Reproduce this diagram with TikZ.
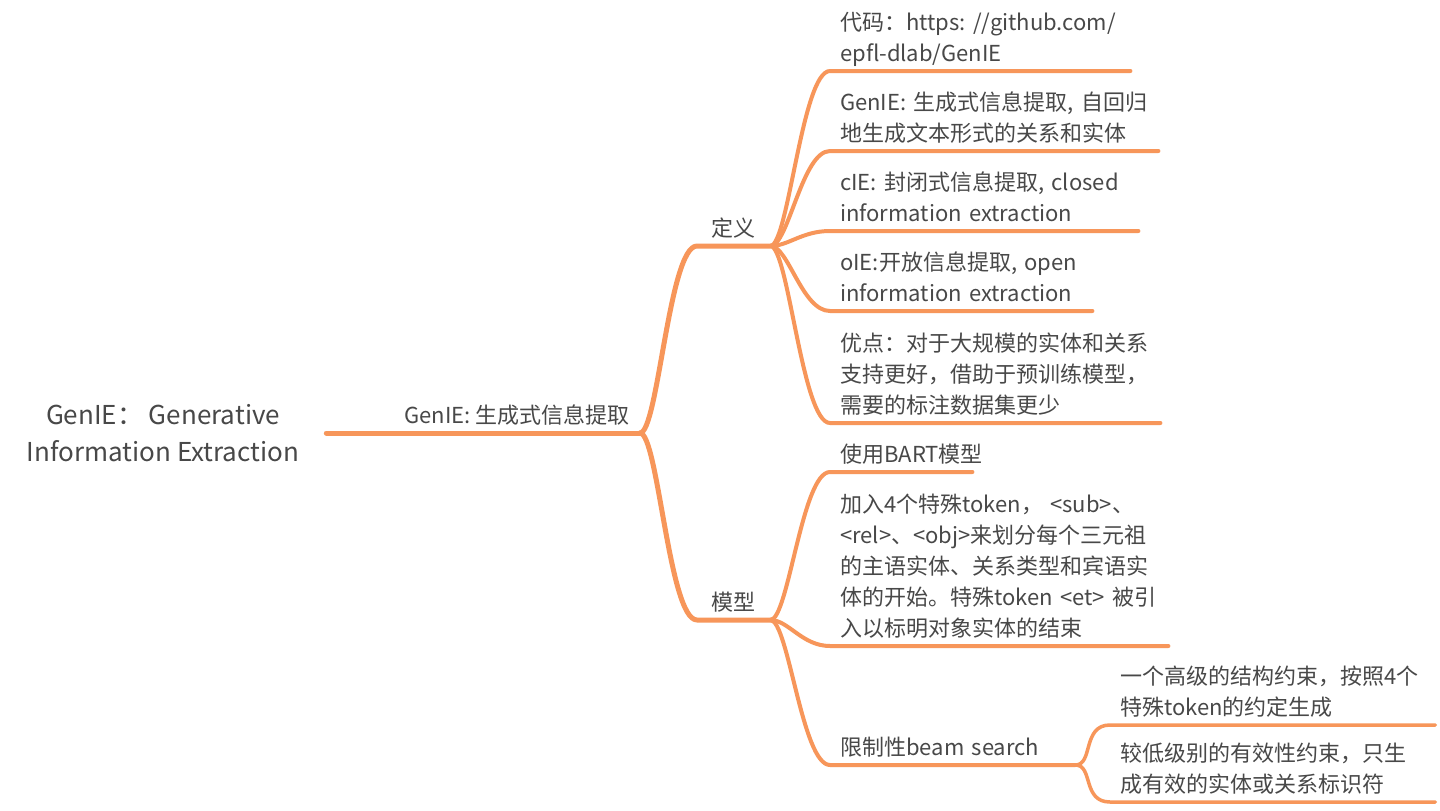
\documentclass[tikz,border=0pt]{standalone}
\usepackage{fontspec}
\setmainfont{Noto Sans CJK SC}
\usepackage{xcolor}
\usetikzlibrary{positioning, calc}

\definecolor{mindorange}{RGB}{247,150,90}
\definecolor{mindtext}{RGB}{72,72,72}

\begin{document}
\begin{tikzpicture}[
        x=1pt, y=-1pt, % sheet units: one unit per pixel, y downwards
        font=\fontsize{22}{31}\selectfont,
        text=mindtext,
        branch/.style={draw=mindorange, line width=4pt, line cap=round, line join=round},
        trunk/.style={branch, line width=5pt},
        twig/.style={branch, line width=3.5pt},
        limb/.style={to path={.. controls +(18,0) and +(-28,0) .. (\tikztotarget) \tikztonodes}},
        rootnode/.style={font=\fontsize{26}{37}\selectfont, align=center, inner xsep=27pt},
        subject/.style={anchor=south east, inner xsep=10pt, inner ysep=0pt, execute at end node=\strut},
        hub/.style={anchor=south west, minimum width=73pt, inner xsep=0pt, inner ysep=0pt, execute at end node=\strut},
        topic/.style={anchor=south west, align=left, text width=#1, inner xsep=10pt, inner ysep=0pt, execute at end node=\strut},
    ]

    % --- LAYOUT PARAMETERS ---
    \pgfmathsetmacro{\hubx}{697}
    \pgfmathsetmacro{\leafx}{830}
    \pgfmathsetmacro{\twigx}{1110}

    % Sheet
    \fill[white] (0,0) rectangle (1440,811);
    \useasboundingbox (0,0) rectangle (1440,811);

    % Root and main subject
    \node[rootnode] (root) at (163,433) {GenIE： Generative\\Information Extraction};
    \node[subject] (gen) at (640,433) {GenIE: 生成式信息提取};

    % Second level
    \node[hub] (def) at (\hubx,246) {定义};
    \node[hub] (model) at (\hubx,620) {模型};

    % Leaves of the definition
    \node[topic=280pt] (code) at (\leafx,71) {代码：https:~//github.com/\\epfl-dlab/GenIE};
    \node[topic=308pt] (genie) at (\leafx,151) {GenIE:~生成式信息提取,~自回归\\地生成文本形式的关系和实体};
    \node[topic=288pt] (cie) at (\leafx,231) {cIE:~封闭式信息提取,~closed\\information~extraction};
    \node[topic=242pt] (oie) at (\leafx,311) {oIE:开放信息提取,~open\\information~extraction};
    \node[topic=310pt] (pros) at (\leafx,423) {优点：对于大规模的实体和关系\\支持更好，借助于预训练模型，\\需要的标注数据集更少};

    % Leaves of the model
    \node[topic=122pt] (bart) at (\leafx,472) {使用BART模型};
    \node[topic=318pt] (tokens) at (\leafx,646) {加入4个特殊token，~<sub>、\\<rel>、<obj>来划分每个三元祖\\的主语实体、关系类型和宾语实\\体的开始。特殊token~<et>~被引\\入以标明对象实体的结束};
    \node[topic=225pt] (beam) at (\leafx,765) {限制性beam~search};

    % Constraints of the beam search
    \node[topic=305pt] (high) at (\twigx,725) {一个高级的结构约束，按照4个\\特殊token的约定生成};
    \node[topic=305pt] (low) at (\twigx,802) {较低级别的有效性约束，只生\\成有效的实体或关系标识符};

    % Connectors
    \draw[trunk] (root.east) -- (gen.south east);
    \draw[trunk] (gen.south east) to[limb] (def.south west) -- (def.south east);
    \draw[trunk] (gen.south east) to[limb] (model.south west) -- (model.south east);
    \foreach \leaf in {code,genie,cie,oie,pros}{
        \draw[branch] (def.south east) to[limb] (\leaf.south west) -- (\leaf.south east);
    }
    \foreach \leaf in {bart,tokens,beam}{
        \draw[branch] (model.south east) to[limb] (\leaf.south west) -- (\leaf.south east);
    }
    \foreach \leaf in {high,low}{
        \draw[twig] (beam.south east) to[limb] (\leaf.south west) -- (\leaf.south east);
    }
\end{tikzpicture}
\end{document}
